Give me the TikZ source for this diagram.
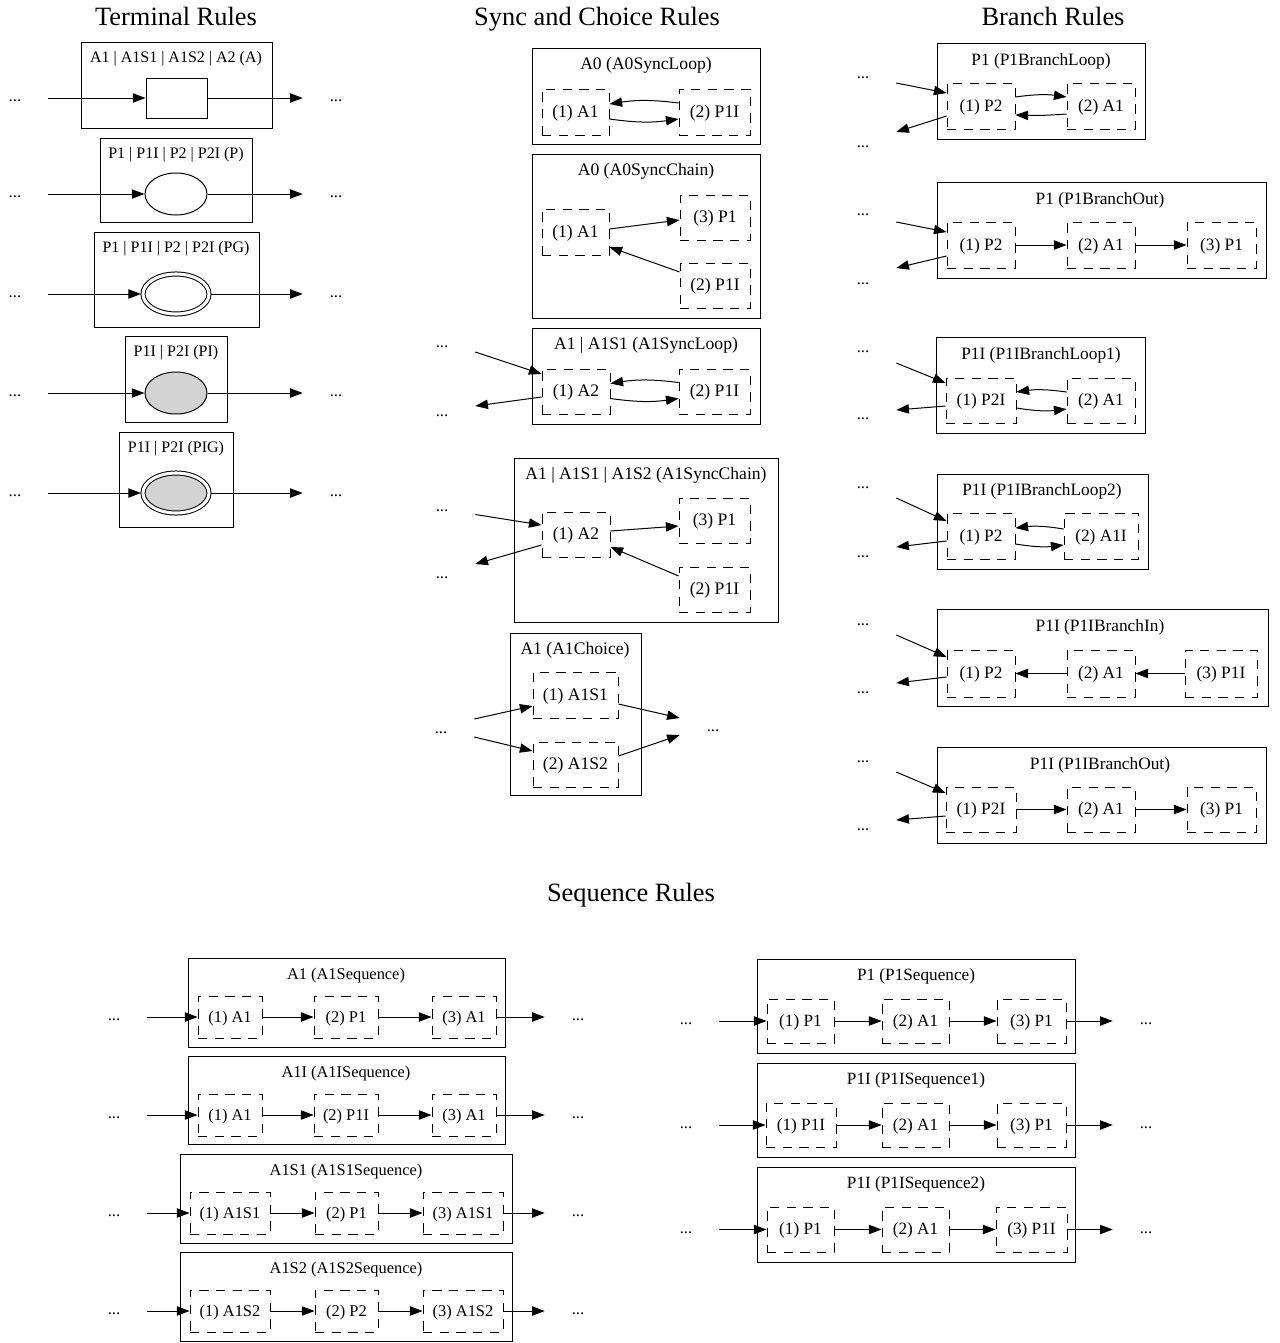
\documentclass[tikz,border=0pt]{standalone}
\usepackage{fontspec}
\setmainfont{Liberation Serif}
\usetikzlibrary{arrows.meta,fit,calc,shapes.geometric}
\definecolor{lgray}{HTML}{D3D3D3}
\newcommand\DB[4]{\node[dbox,fit={#2 #3}] (#1) {}; \node[ntxt] (#1t) at (#1.center) {#4};}
\begin{document}
\begin{tikzpicture}[x=0.75pt,y=-0.75pt,
  nfs/.style={font=\fontsize{12.5}{15}\selectfont},
  outer/.style={draw,line width=0.75pt,inner sep=0pt,rectangle},
  dbox/.style={draw,dash pattern=on 7pt off 5.5pt,line width=0.65pt,inner sep=0pt,rectangle},
  ntxt/.style={inner sep=0pt,text height=8pt,text depth=0pt,nfs},
  lbl/.style={inner sep=0pt,anchor=base,nfs},
  ttl/.style={font=\fontsize{19.8}{24}\selectfont,inner sep=0pt,anchor=base},
  dots/.style={font=\fontsize{12.5}{15}\selectfont,minimum width=49.5pt,minimum height=27pt,inner sep=0pt,text height=8.5pt,text depth=3pt},
  arr/.style={-{Triangle[length=9.5pt,width=7pt]},line width=0.75pt},
  ell/.style={draw,ellipse,line width=0.75pt,inner sep=0pt,minimum width=46.5pt,minimum height=31.5pt},
  dell/.style={draw,ellipse,line width=0.75pt,inner sep=0pt,double,double distance=2.3pt,minimum width=49.5pt,minimum height=30pt,outer sep=1.5pt},
]
\useasboundingbox (0,0) rectangle (1280,1343);

% ================= Terminal Rules =================
\node[ttl] (ttlT) at (176,25.5) {Terminal Rules};
\begin{scope}[nfs/.style={font=\fontsize{12}{14}\selectfont}]
\node[outer,fit={(81,42)(272,128)}] (tA) {};
\node[lbl] (tAlab) at (176,62.5) {A1 | A1S1 | A1S2 | A2 (A)};
\node[draw,line width=0.75pt,inner sep=0pt,fit={(146,78)(207,118)}] (tArect) {};
\node[dots] (tAin) at (15,98) {...};
\node[dots] (tAout) at (336,98) {...};
\draw[arr] (tAin.east) -- (tArect.west);
\draw[arr] (tArect.east) -- (tAout.west);

\node[outer,fit={(100,138)(252,222)}] (tP) {};
\node[lbl] (tPlab) at (176,158.5) {P1 | P1I | P2 | P2I (P)};
\node[ell] (tPell) at (176,194) {};
\node[dots] (tPin) at (15,194) {...};
\node[dots] (tPout) at (336,194) {...};
\draw[arr] (tPin.east) -- (tPell.west);
\draw[arr] (tPell.east) -- (tPout.west);

\node[outer,fit={(94,232)(259,327)}] (tPG) {};
\node[lbl] (tPGlab) at (176,252.5) {P1 | P1I | P2 | P2I (PG)};
\node[dell] (tPGell) at (176,294) {};
\node[dots] (tPGin) at (15,294) {...};
\node[dots] (tPGout) at (336,294) {...};
\draw[arr] (tPGin.east) -- (tPGell.west);
\draw[arr] (tPGell.east) -- (tPGout.west);

\node[outer,fit={(125,336)(227,422)}] (tPI) {};
\node[lbl] (tPIlab) at (176,356.5) {P1I | P2I (PI)};
\node[ell,fill=lgray] (tPIell) at (176,393) {};
\node[dots] (tPIin) at (15,393) {...};
\node[dots] (tPIout) at (336,393) {...};
\draw[arr] (tPIin.east) -- (tPIell.west);
\draw[arr] (tPIell.east) -- (tPIout.west);

\node[outer,fit={(119,432)(233,527)}] (tPIG) {};
\node[lbl] (tPIGlab) at (176,452.5) {P1I | P2I (PIG)};
\node[dell,fill=lgray] (tPIGell) at (176,493) {};
\node[dots] (tPIGin) at (15,493) {...};
\node[dots] (tPIGout) at (336,493) {...};
\draw[arr] (tPIGin.east) -- (tPIGell.west);
\draw[arr] (tPIGell.east) -- (tPIGout.west);
\end{scope}

% ================= Sync and Choice Rules =================
\node[ttl] (ttlS) at (597,25.5) {Sync and Choice Rules};
\begin{scope}[nfs/.style={font=\fontsize{13.2}{16}\selectfont}]
% A0SyncLoop
\node[outer,fit={(532,48)(760,144)}] (sL) {};
\node[lbl] (sLlab) at (646,69.5) {A0 (A0SyncLoop)};
\DB{sL1}{(542,89)}{(609,135)}{(1) A1}
\DB{sL2}{(679,89)}{(750,135)}{(2) P1I}
\draw[arr] ($(sL2.west)+(0,-9)$) to[bend right=8] ($(sL1.east)+(0,-8)$);
\draw[arr] ($(sL1.east)+(0,7)$) to[bend right=8] ($(sL2.west)+(0,7)$);

% A0SyncChain
\node[outer,fit={(532,154)(760,318)}] (sC) {};
\node[lbl] (sClab) at (646,175.5) {A0 (A0SyncChain)};
\DB{sC1}{(542,209)}{(609,255)}{(1) A1}
\DB{sC3}{(680,195)}{(750,240)}{(3) P1}
\DB{sC2}{(680,263)}{(750,308)}{(2) P1I}
\draw[arr] ($(sC1.east)+(0,-3)$) -- ($(sC3.west)+(0,2.5)$);
\draw[arr] ($(sC2.west)+(0,-13.5)$) -- ($(sC1.east)+(0,15)$);

% A1SyncLoop
\node[outer,fit={(532,328)(760,424)}] (sAL) {};
\node[lbl] (sALlab) at (646,349.5) {A1 | A1S1 (A1SyncLoop)};
\DB{sAL1}{(542,369)}{(610,414)}{(1) A2}
\DB{sAL2}{(679,369)}{(750,414)}{(2) P1I}
\draw[arr] ($(sAL2.west)+(0,-9)$) to[bend right=8] ($(sAL1.east)+(0,-8)$);
\draw[arr] ($(sAL1.east)+(0,7)$) to[bend right=8] ($(sAL2.west)+(0,7)$);
\node[dots] (sALin) at (442,343.5) {...};
\node[dots] (sALout) at (442,413) {...};
\draw[arr] ($(sALin.east)+(0,8.5)$) -- ($(sAL1.west)+(0,-17.5)$);
\draw[arr] ($(sAL1.west)+(0,5.5)$) -- ($(sALout.east)+(0,-7)$);

% A1SyncChain
\node[outer,fit={(514,458)(778,622)}] (sAC) {};
\node[lbl] (sAClab) at (646,479.5) {A1 | A1S1 | A1S2 (A1SyncChain)};
\DB{sAC1}{(542,512)}{(610,557)}{(1) A2}
\DB{sAC3}{(679,498)}{(750,543)}{(3) P1}
\DB{sAC2}{(679,567)}{(750,612)}{(2) P1I}
\draw[arr] ($(sAC1.east)+(0,-3.5)$) -- ($(sAC3.west)+(0,5.5)$);
\draw[arr] ($(sAC2.west)+(0,-13.5)$) -- ($(sAC1.east)+(0,12.5)$);
\node[dots] (sACin) at (442,508) {...};
\node[dots] (sACout) at (442,575) {...};
\draw[arr] ($(sACin.east)+(0,6.5)$) -- ($(sAC1.west)+(0,-9.5)$);
\draw[arr] ($(sAC1.west)+(0,10.5)$) -- ($(sACout.east)+(0,-11)$);

% A1Choice
\node[outer,fit={(510,633)(641,795)}] (sCh) {};
\node[lbl] (sChlab) at (575,654.5) {A1 (A1Choice)};
\DB{sCh1}{(533,672)}{(618,718)}{(1) A1S1}
\DB{sCh2}{(533,742)}{(618,787)}{(2) A1S2}
\node[dots] (sChin) at (441,730) {...};
\node[dots] (sChout) at (713,728) {...};
\draw[arr] ($(sChin.east)+(0,-11)$) -- ($(sCh1.west)+(0,11)$);
\draw[arr] ($(sChin.east)+(0,7)$) -- ($(sCh2.west)+(0,-13.5)$);
\draw[arr] ($(sCh1.east)+(0,9)$) -- ($(sChout.west)+(0,-10)$);
\draw[arr] ($(sCh2.east)+(0,-8.5)$) -- ($(sChout.west)+(0,7)$);
\end{scope}

% ================= Branch Rules =================
\node[ttl] (ttlB) at (1053,25.5) {Branch Rules};
\begin{scope}[nfs/.style={font=\fontsize{13}{16}\selectfont}]
% P1BranchLoop
\node[outer,fit={(937,43)(1145,139)}] (bL) {};
\node[lbl] (bLlab) at (1041,65) {P1 (P1BranchLoop)};
\DB{bL1}{(947,83)}{(1015,129)}{(1) P2}
\DB{bL2}{(1067,83)}{(1135,129)}{(2) A1}
\draw[arr] ($(bL1.east)+(0,-9)$) to[bend left=8] ($(bL2.west)+(0,-9)$);
\draw[arr] ($(bL2.west)+(0,8)$) to[bend left=3] ($(bL1.east)+(0,9)$);
\node[dots] (bLin) at (863,75) {...};
\node[dots] (bLout) at (863,144) {...};
\draw[arr] ($(bLin.east)+(0,8)$) -- ($(bL1.west)+(0,-13)$);
\draw[arr] ($(bL1.west)+(0,10)$) -- ($(bLout.east)+(0,-12)$);

% P1BranchOut
\node[outer,fit={(937,182)(1266,278)}] (bO) {};
\node[lbl] (bOlab) at (1100,204) {P1 (P1BranchOut)};
\DB{bO1}{(947,222)}{(1015,268)}{(1) P2}
\DB{bO2}{(1067,222)}{(1135,268)}{(2) A1}
\DB{bO3}{(1187,222)}{(1256,268)}{(3) P1}
\draw[arr] (bO1.east) -- (bO2.west);
\draw[arr] (bO2.east) -- (bO3.west);
\node[dots] (bOin) at (863,212) {...};
\node[dots] (bOout) at (863,281) {...};
\draw[arr] ($(bOin.east)+(0,10)$) -- ($(bO1.west)+(0,-13)$);
\draw[arr] ($(bO1.west)+(0,11)$) -- ($(bOout.east)+(0,-13)$);

% P1IBranchLoop1
\node[outer,fit={(936,337)(1145,433)}] (bL1x) {};
\node[lbl] (bL1lab) at (1041,359) {P1I (P1IBranchLoop1)};
\DB{bL1a}{(946,378)}{(1016,423)}{(1) P2I}
\DB{bL1b}{(1067,378)}{(1135,423)}{(2) A1}
\draw[arr] ($(bL1b.west)+(0,-8.5)$) to[bend right=8] ($(bL1a.east)+(0,-8.5)$);
\draw[arr] ($(bL1a.east)+(0,7.5)$) to[bend right=8] ($(bL1b.west)+(0,8.5)$);
\node[dots] (bL1in) at (863,349) {...};
\node[dots] (bL1out) at (863,416) {...};
\draw[arr] ($(bL1in.east)+(0,14)$) -- ($(bL1a.west)+(0,-17.5)$);
\draw[arr] ($(bL1a.west)+(0,5.5)$) -- ($(bL1out.east)+(0,-6)$);

% P1IBranchLoop2
\node[outer,fit={(937,474)(1148,569)}] (bL2x) {};
\node[lbl] (bL2lab) at (1042,495.5) {P1I (P1IBranchLoop2)};
\DB{bL2a}{(947,513)}{(1015,559)}{(1) P2}
\DB{bL2b}{(1064,513)}{(1138,559)}{(2) A1I}
\draw[arr] ($(bL2b.west)+(0,-7)$) to[bend right=8] ($(bL2a.east)+(0,-8)$);
\draw[arr] ($(bL2a.east)+(0,8)$) to[bend right=8] ($(bL2b.west)+(0,9)$);
\node[dots] (bL2in) at (863,485) {...};
\node[dots] (bL2out) at (863,554) {...};
\draw[arr] ($(bL2in.east)+(0,13)$) -- ($(bL2a.west)+(0,-15)$);
\draw[arr] ($(bL2a.west)+(0,5)$) -- ($(bL2out.east)+(0,-7)$);

% P1IBranchIn
\node[outer,fit={(937,609)(1268,706)}] (bI) {};
\node[lbl] (bIlab) at (1100,631) {P1I (P1IBranchIn)};
\DB{bIa}{(947,650)}{(1015,697)}{(1) P2}
\DB{bIb}{(1067,650)}{(1135,697)}{(2) A1}
\DB{bIc}{(1185,650)}{(1257,697)}{(3) P1I}
\draw[arr] (bIb.west) -- (bIa.east);
\draw[arr] (bIc.west) -- (bIb.east);
\node[dots] (bIin) at (863,622) {...};
\node[dots] (bIout) at (863,690) {...};
\draw[arr] ($(bIin.east)+(0,13)$) -- ($(bIa.west)+(0,-16.5)$);
\draw[arr] ($(bIa.west)+(0,3.5)$) -- ($(bIout.east)+(0,-7)$);

% P1IBranchOut
\node[outer,fit={(937,747)(1266,843)}] (bOI) {};
\node[lbl] (bOIlab) at (1100,769) {P1I (P1IBranchOut)};
\DB{bOIa}{(946,787)}{(1016,832)}{(1) P2I}
\DB{bOIb}{(1067,787)}{(1135,832)}{(2) A1}
\DB{bOIc}{(1187,787)}{(1256,832)}{(3) P1}
\draw[arr] (bOIa.east) -- (bOIb.west);
\draw[arr] (bOIb.east) -- (bOIc.west);
\node[dots] (bOIin) at (863,759) {...};
\node[dots] (bOIout) at (863,827) {...};
\draw[arr] ($(bOIin.east)+(0,13)$) -- ($(bOIa.west)+(0,-16.5)$);
\draw[arr] ($(bOIa.west)+(0,6.5)$) -- ($(bOIout.east)+(0,-7)$);
\end{scope}

% ================= Sequence Rules =================
\node[ttl] (ttlQ) at (631,901.5) {Sequence Rules};
\begin{scope}[nfs/.style={font=\fontsize{12.3}{15}\selectfont}]
% A1Sequence
\node[outer,fit={(188,958)(505,1047)}] (qA) {};
\node[lbl] (qAlab) at (346,979) {A1 (A1Sequence)};
\DB{qA1}{(198,996)}{(262,1038)}{(1) A1}
\DB{qA2}{(314,996)}{(378,1038)}{(2) P1}
\DB{qA3}{(432,996)}{(496,1038)}{(3) A1}
\node[dots] (qAin) at (114,1017) {...};
\node[dots] (qAout) at (578,1017) {...};
\draw[arr] (qAin.east) -- (qA1.west);
\draw[arr] (qA1.east) -- (qA2.west);
\draw[arr] (qA2.east) -- (qA3.west);
\draw[arr] (qA3.east) -- (qAout.west);

% A1ISequence
\node[outer,fit={(188,1056)(505,1144)}] (qAI) {};
\node[lbl] (qAIlab) at (346,1077) {A1I (A1ISequence)};
\DB{qAI1}{(198,1094)}{(262,1136)}{(1) A1}
\DB{qAI2}{(314,1094)}{(378,1136)}{(2) P1I}
\DB{qAI3}{(432,1094)}{(496,1136)}{(3) A1}
\node[dots] (qAIin) at (114,1115) {...};
\node[dots] (qAIout) at (578,1115) {...};
\draw[arr] (qAIin.east) -- (qAI1.west);
\draw[arr] (qAI1.east) -- (qAI2.west);
\draw[arr] (qAI2.east) -- (qAI3.west);
\draw[arr] (qAI3.east) -- (qAIout.west);

% A1S1Sequence
\node[outer,fit={(180,1154)(512,1243)}] (qS1) {};
\node[lbl] (qS1lab) at (346,1175) {A1S1 (A1S1Sequence)};
\DB{qS11}{(190,1192)}{(270,1234)}{(1) A1S1}
\DB{qS12}{(315,1192)}{(378,1234)}{(2) P1}
\DB{qS13}{(423,1192)}{(503,1234)}{(3) A1S1}
\node[dots] (qS1in) at (114,1213) {...};
\node[dots] (qS1out) at (578,1213) {...};
\draw[arr] (qS1in.east) -- (qS11.west);
\draw[arr] (qS11.east) -- (qS12.west);
\draw[arr] (qS12.east) -- (qS13.west);
\draw[arr] (qS13.east) -- (qS1out.west);

% A1S2Sequence
\node[outer,fit={(180,1252)(512,1341)}] (qS2) {};
\node[lbl] (qS2lab) at (346,1273) {A1S2 (A1S2Sequence)};
\DB{qS21}{(190,1290)}{(270,1332)}{(1) A1S2}
\DB{qS22}{(315,1290)}{(378,1332)}{(2) P2}
\DB{qS23}{(423,1290)}{(503,1332)}{(3) A1S2}
\node[dots] (qS2in) at (114,1311) {...};
\node[dots] (qS2out) at (578,1311) {...};
\draw[arr] (qS2in.east) -- (qS21.west);
\draw[arr] (qS21.east) -- (qS22.west);
\draw[arr] (qS22.east) -- (qS23.west);
\draw[arr] (qS23.east) -- (qS2out.west);
\end{scope}

\begin{scope}[nfs/.style={font=\fontsize{12.9}{15}\selectfont}]
% P1Sequence
\node[outer,fit={(757,959)(1075,1053)}] (qP) {};
\node[lbl] (qPlab) at (916,980.5) {P1 (P1Sequence)};
\DB{qP1}{(767,999)}{(834,1043)}{(1) P1}
\DB{qP2}{(882,999)}{(949,1043)}{(2) A1}
\DB{qP3}{(997,999)}{(1066,1043)}{(3) P1}
\node[dots] (qPin) at (686,1021) {...};
\node[dots] (qPout) at (1146,1021) {...};
\draw[arr] (qPin.east) -- (qP1.west);
\draw[arr] (qP1.east) -- (qP2.west);
\draw[arr] (qP2.east) -- (qP3.west);
\draw[arr] (qP3.east) -- (qPout.west);

% P1ISequence1
\node[outer,fit={(757,1063)(1075,1157)}] (qPa) {};
\node[lbl] (qPalab) at (916,1084.5) {P1I (P1ISequence1)};
\DB{qPa1}{(766,1103)}{(836,1147)}{(1) P1I}
\DB{qPa2}{(882,1103)}{(949,1147)}{(2) A1}
\DB{qPa3}{(997,1103)}{(1066,1147)}{(3) P1}
\node[dots] (qPain) at (686,1125) {...};
\node[dots] (qPaout) at (1146,1125) {...};
\draw[arr] (qPain.east) -- (qPa1.west);
\draw[arr] (qPa1.east) -- (qPa2.west);
\draw[arr] (qPa2.east) -- (qPa3.west);
\draw[arr] (qPa3.east) -- (qPaout.west);

% P1ISequence2
\node[outer,fit={(757,1167)(1075,1262)}] (qPb) {};
\node[lbl] (qPblab) at (916,1188.5) {P1I (P1ISequence2)};
\DB{qPb1}{(767,1207)}{(834,1252)}{(1) P1}
\DB{qPb2}{(882,1207)}{(949,1252)}{(2) A1}
\DB{qPb3}{(996,1207)}{(1067,1252)}{(3) P1I}
\node[dots] (qPbin) at (686,1229.5) {...};
\node[dots] (qPbout) at (1146,1229.5) {...};
\draw[arr] (qPbin.east) -- (qPb1.west);
\draw[arr] (qPb1.east) -- (qPb2.west);
\draw[arr] (qPb2.east) -- (qPb3.west);
\draw[arr] (qPb3.east) -- (qPbout.west);
\end{scope}

\end{tikzpicture}
\end{document}
